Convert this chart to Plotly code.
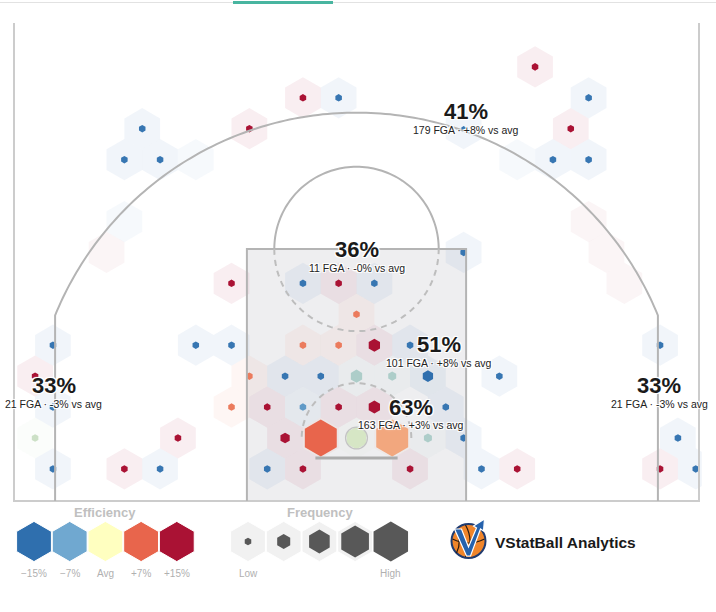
import math
import plotly.graph_objects as go

# ================= DATA =================
zone_names = ["Above the Break 3", "Mid-Range", "Paint (Non-RA)", "Restricted Area",
              "Left Corner 3", "Right Corner 3"]
zone_fg_pct = [41, 36, 51, 63, 33, 33]
zone_fga = [179, 11, 101, 163, 21, 21]
zone_vs_avg = [8, -0.3, 8, 3, -3, -3]

# hex bins: row index (0 = rim row), doubled column index (0 = rim), attempts, FG% vs league avg
hex_row = [12, 11, 11, 11, 10, 10, 10, 10, 9, 9, 9, 9, 9, 9, 7, 7, 6, 6, 6, 5, 5, 5, 5, 5, 4,
           3, 3, 3, 3, 3, 3, 3, 3, 2, 2, 2, 2, 2, 2, 2, 2, 1, 1, 1, 1, 1, 1, 1,
           0, 0, 0, 0, 0, 0, 0, 0, 0, -1, -1, -1, -1, -1, -1, -1, -1, -1, -1]
hex_col = [10, -3, -1, 13, -12, -6, 6, 12, -13, -11, -9, 9, 11, 13, -13, 13, -14, 6, 14,
           -7, -3, -1, 1, 15, 0,
           -17, -9, -7, -3, -1, 1, 3, 17, -18, -6, -4, -2, 0, 2, 4, 8,
           -17, -7, -5, -3, -1, 1, 5,
           -18, -10, -4, -2, 0, 2, 4, 6, 18, -17, -13, -11, -5, -3, 3, 7, 9, 17, 19]
hex_fga = [2, 2, 2, 2, 2, 2, 1, 2, 2, 2, 0, 0, 2, 2, 0, 0, 0, 2, 0, 2, 2, 2, 2, 0, 2,
           2, 2, 2, 2, 2, 6, 2, 2, 2, 2, 2, 2, 6, 3, 5, 2, 2, 2, 2, 2, 2, 6, 2,
           2, 2, 4, 48, 18, 48, 3, 2, 2, 2, 2, 2, 2, 2, 2, 2, 2, 2, 2]
hex_eff = [15, 15, -14, -14, -14, 15, -14, 15, -14, -14, -14, -14, -14, -14, -14, 15,
           15, -14, 15, 15, -14, 15, -14, 15, 6,
           -14, -14, -14, 6, 6, 15, -14, -14, 15, 6, -14, -14, -4, -4, -15, -14,
           -14, 6, 15, -9, 15, 15, -14,
           -2.5, 15, 15, 7, -2, 4, -4, -14, -14,
           -14, 15, -14, -14, 15, 15, -14, 15, 15, -14]

eff_legend_values = [-15, -7, 0, 7, 15]
eff_legend_labels = ["\u221215%", "\u22127%", "Avg", "+7%", "+15%"]
freq_legend_fga = [2, 8, 20, 36, 56]
freq_legend_labels = ["Low", "", "", "", "High"]
brand = "VStatBall Analytics"

# ================= GEOMETRY / STYLE =================
PX_FT = 13.7                 # pixels per foot
HOOP_PX = (356.5, 438.0)     # hoop centre in page pixels
HEX_R = 1.505                # hex circumradius in feet
HEX_PX = 2 * HEX_R * PX_FT   # marker size in px
FGA_MAX = 60.0
W, H = 716, 612

XR = (-25.2, 25.2)
YR = (-4.75, 30.3)
x_dom = [(HOOP_PX[0] + XR[0] * PX_FT) / W, (HOOP_PX[0] + XR[1] * PX_FT) / W]
y_dom = [1 - (HOOP_PX[1] - YR[0] * PX_FT) / H, 1 - (HOOP_PX[1] - YR[1] * PX_FT) / H]

EFF_SCALE = [[0.0, "#2f6fae"], [0.2667, "#70a8d0"], [0.5, "#ffffc0"],
             [0.7333, "#e8654c"], [1.0, "#aa1234"]]
FONT = "Liberation Sans, Arial, Helvetica, sans-serif"
HALO = "1px 1px 0 #fff, -1px -1px 0 #fff, 1px -1px 0 #fff, -1px 1px 0 #fff, 0 0 3px #fff"

hx = [q * math.sqrt(3) / 2 * HEX_R for q in hex_col]
hy = [r * 1.5 * HEX_R for r in hex_row]
inner_size = [HEX_PX * math.sqrt(f / FGA_MAX) for f in hex_fga]
bg_opacity = [0.07 if f > 0 else 0.045 for f in hex_fga]

fig = go.Figure()
fig.add_trace(go.Scatter(
    x=hx, y=hy, mode="markers", hoverinfo="skip",
    marker=dict(symbol="hexagon", size=HEX_PX, color=hex_eff, colorscale=EFF_SCALE,
                cmin=-15, cmax=15, opacity=bg_opacity, line=dict(width=0))))
fig.add_trace(go.Scatter(
    x=hx, y=hy, mode="markers",
    marker=dict(symbol="hexagon", size=inner_size, color=hex_eff, colorscale=EFF_SCALE,
                cmin=-15, cmax=15, opacity=1, line=dict(width=0))))

# ---------- court lines ----------
def arc(cx, cy, r, a0, a1, n=90):
    return [(cx + r * math.cos(math.radians(a0 + (a1 - a0) * i / n)),
             cy + r * math.sin(math.radians(a0 + (a1 - a0) * i / n))) for i in range(n + 1)]

def path(pts, close=False):
    s = "M " + " L ".join(f"{x:.3f},{y:.3f}" for x, y in pts)
    return s + (" Z" if close else "")

BASE = -4.6
TOP = 40
PAINT_TOP = 13.8
LINE = "#b4b4b4"
shapes = []
shapes.append(dict(type="rect", xref="x", yref="y", x0=-8, x1=8, y0=BASE, y1=PAINT_TOP,
                   fillcolor="#eeeef0", line=dict(width=0), layer="below"))
shapes.append(dict(type="path", xref="x", yref="y",
                   path=path([(-25, TOP), (-25, BASE), (25, BASE), (25, TOP)]),
                   line=dict(color="#cccccc", width=2), layer="above"))
shapes.append(dict(type="path", xref="x", yref="y",
                   path=path([(-8, BASE), (-8, PAINT_TOP), (8, PAINT_TOP), (8, BASE)]),
                   line=dict(color=LINE, width=2), layer="above"))
yc = math.sqrt(23.75 ** 2 - 22 ** 2)
a0 = math.degrees(math.atan2(yc, -22))
a1 = math.degrees(math.atan2(yc, 22))
three = [(-22, BASE)] + arc(0, 0, 23.75, a0, a1, 160) + [(22, BASE)]
shapes.append(dict(type="path", xref="x", yref="y", path=path(three),
                   line=dict(color=LINE, width=2), layer="above"))
shapes.append(dict(type="path", xref="x", yref="y", path=path(arc(0, PAINT_TOP, 6, 0, 180)),
                   line=dict(color=LINE, width=2), layer="above"))
shapes.append(dict(type="path", xref="x", yref="y", path=path(arc(0, PAINT_TOP, 6, 180, 360)),
                   line=dict(color="#bdbdbd", width=2, dash="6px,5px"), layer="above"))
shapes.append(dict(type="path", xref="x", yref="y", path=path(arc(0, 0, 4, 0, 180)),
                   line=dict(color="#bdbdbd", width=2, dash="6px,5px"), layer="above"))
shapes.append(dict(type="line", xref="x", yref="y", x0=-3, x1=3, y0=-1.46, y1=-1.46,
                   line=dict(color="#acacac", width=3), layer="above"))
shapes.append(dict(type="circle", xref="x", yref="y", x0=-0.8, x1=0.8, y0=-0.8, y1=0.8,
                   line=dict(color="#c4c4c4", width=1.2), layer="above"))

# page frame
shapes.append(dict(type="line", xref="paper", yref="paper", x0=0, x1=1, y0=1 - 2.5 / H, y1=1 - 2.5 / H,
                   line=dict(color="#e2e2e2", width=1)))
shapes.append(dict(type="line", xref="paper", yref="paper", x0=233 / W, x1=333 / W,
                   y0=1 - 2.5 / H, y1=1 - 2.5 / H, line=dict(color="#48b5a0", width=3)))

# ---------- zone labels ----------
LABEL_POS = [(8.0, 23.8), (0.0, 13.75), (6.0, 6.8), (4.0, 2.26), (-22.1, 3.8), (22.1, 3.8)]
ann = []
for (lx, ly), pct, fga, d in zip(LABEL_POS, zone_fg_pct, zone_fga, zone_vs_avg):
    ann.append(dict(x=lx, y=ly, xref="x", yref="y", text=f"<b>{pct}%</b>", showarrow=False,
                    font=dict(family=FONT, size=22, color="#1a1a1a", shadow=HALO),
                    xanchor="center", yanchor="middle"))
    ann.append(dict(x=lx, y=ly, xref="x", yref="y", yshift=-18,
                    text=f"{fga} FGA \u00b7 {d:+.0f}% vs avg", showarrow=False,
                    font=dict(family=FONT, size=10.5, color="#222222", shadow=HALO),
                    xanchor="center", yanchor="middle"))

# ---------- legend (pixel overlay axes) ----------
LEG_Y = 541.5
eff_x = [34 + i * 35.7 for i in range(len(eff_legend_values))]
freq_x = [248 + i * 35.7 for i in range(len(freq_legend_fga))]
fig.add_trace(go.Scatter(
    x=eff_x, y=[LEG_Y] * len(eff_x), xaxis="x2", yaxis="y2", mode="markers", hoverinfo="skip",
    marker=dict(symbol="hexagon", size=HEX_PX - 1, color=eff_legend_values, colorscale=EFF_SCALE,
                cmin=-15, cmax=15, opacity=1, line=dict(width=1, color="#ffffff"))))
fig.add_trace(go.Scatter(
    x=freq_x, y=[LEG_Y] * len(freq_x), xaxis="x2", yaxis="y2", mode="markers", hoverinfo="skip",
    marker=dict(symbol="hexagon", size=HEX_PX - 1, color="#f1f1f1", opacity=1,
                line=dict(width=1, color="#ffffff"))))
fig.add_trace(go.Scatter(
    x=freq_x, y=[LEG_Y] * len(freq_x), xaxis="x2", yaxis="y2", mode="markers", hoverinfo="skip",
    marker=dict(symbol="hexagon", size=[HEX_PX * math.sqrt(f / FGA_MAX) for f in freq_legend_fga],
                color="#585858", opacity=1, line=dict(width=0))))

ann.append(dict(x=105, y=512, xref="x2", yref="y2", text="<b>Efficiency</b>", showarrow=False,
                font=dict(family=FONT, size=13, color="#c0c0c0")))
ann.append(dict(x=320, y=512, xref="x2", yref="y2", text="<b>Frequency</b>", showarrow=False,
                font=dict(family=FONT, size=13, color="#c0c0c0")))
for x, t in zip(eff_x, eff_legend_labels):
    ann.append(dict(x=x, y=573, xref="x2", yref="y2", text=t, showarrow=False,
                    font=dict(family=FONT, size=10, color="#b0b0b0")))
for x, t in zip(freq_x, freq_legend_labels):
    if t:
        ann.append(dict(x=x, y=573, xref="x2", yref="y2", text=t, showarrow=False,
                        font=dict(family=FONT, size=10, color="#b0b0b0")))

# ---------- brand logo ----------
LX, LY, LR = 468.5, 541, 17
shapes.append(dict(type="circle", xref="x2", yref="y2", x0=LX - LR, x1=LX + LR, y0=LY - LR, y1=LY + LR,
                   fillcolor="#f0852a", line=dict(color="#1f3b70", width=2)))
seam = dict(color="#2a1a10", width=1.2)
shapes.append(dict(type="path", xref="x2", yref="y2",
                   path=f"M {LX-3},{LY-LR+1} Q {LX+6},{LY} {LX-3},{LY+LR-1}", line=seam))
shapes.append(dict(type="path", xref="x2", yref="y2",
                   path=f"M {LX-LR+1},{LY-2} Q {LX},{LY+6} {LX+LR-1},{LY-2}", line=seam))
shapes.append(dict(type="path", xref="x2", yref="y2",
                   path=f"M {LX-LR+4},{LY-11} Q {LX-6},{LY} {LX-LR+5},{LY+12}", line=seam))
shapes.append(dict(type="path", xref="x2", yref="y2",
                   path=(f"M {LX-14},{LY-12} L {LX-7},{LY-12} L {LX},{LY+6} L {LX+8},{LY-13} "
                         f"L {LX+5},{LY-15} L {LX+16},{LY-22} L {LX+15},{LY-10} L {LX+12},{LY-12} "
                         f"L {LX+2},{LY+15} L {LX-2},{LY+15} Z"),
                   fillcolor="#2662ac", line=dict(color="#ffffff", width=1.2)))
ann.append(dict(x=493, y=542, xref="x2", yref="y2", text=f"<b>{brand}</b>", showarrow=False,
                xanchor="left", yanchor="middle",
                font=dict(family=FONT, size=15.5, color="#1a1a1a")))

fig.update_layout(
    width=W, height=612, margin=dict(l=0, r=0, t=0, b=0),
    paper_bgcolor="#ffffff", plot_bgcolor="rgba(0,0,0,0)", showlegend=False,
    xaxis=dict(range=list(XR), domain=x_dom, visible=False, fixedrange=True),
    yaxis=dict(range=list(YR), domain=y_dom, visible=False, fixedrange=True),
    xaxis2=dict(range=[0, W], domain=[0, 1], anchor="y2", visible=False, fixedrange=True),
    yaxis2=dict(range=[H, 0], domain=[0, 1], anchor="x2", visible=False, fixedrange=True),
    shapes=shapes, annotations=ann, hovermode=False,
)
fig.write_html("out.html", config={"displayModeBar": False})
